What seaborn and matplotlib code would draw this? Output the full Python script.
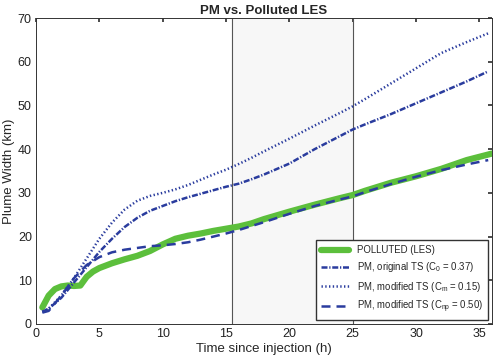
import numpy as np
import pandas as pd
import seaborn as sns
import matplotlib
matplotlib.use("Agg")
import matplotlib.pyplot as plt

# dati
t_les = [0.5, 1, 1.5, 2, 2.5, 3, 3.5, 4, 4.5, 5, 6, 7, 8, 9, 10, 11, 12, 13, 14, 15,
         16, 17, 18, 20, 22, 24, 25, 26, 28, 30, 32, 34, 36]
w_les = [3.8, 6.5, 8.0, 8.6, 8.8, 8.7, 8.8, 10.8, 12.0, 12.8, 13.9, 14.8, 15.6, 16.7,
         18.2, 19.5, 20.2, 20.7, 21.3, 21.8, 22.3, 23.0, 24.0, 25.7, 27.3, 28.8, 29.5,
         30.5, 32.3, 33.8, 35.5, 37.5, 39.0]

t_pm = [0.5, 1, 2, 3, 4, 5, 6, 7, 8, 9, 10, 11, 12, 13, 14, 15, 16, 17, 18, 20, 22,
        24, 25, 26, 28, 30, 32, 34, 35.7]
w_orig = [2.8, 3.5, 6.0, 9.5, 13.0, 16.5, 19.5, 22.2, 24.3, 25.9, 27.0, 28.1, 29.0,
          29.8, 30.6, 31.4, 32.1, 33.1, 34.2, 36.7, 40.0, 43.0, 44.5, 45.7, 48.0, 50.5,
          53.0, 55.5, 57.8]
w_m = [2.8, 3.5, 6.5, 10.5, 15.0, 19.5, 23.2, 26.2, 28.2, 29.3, 30.0, 30.8, 31.8,
       33.0, 34.2, 35.3, 36.6, 38.0, 39.5, 42.4, 45.4, 48.3, 49.8, 51.5, 55.0, 58.5,
       62.0, 64.5, 66.5]
w_np = [2.6, 3.0, 6.5, 10.5, 13.5, 15.3, 16.4, 17.0, 17.4, 17.8, 18.0, 18.3, 18.7,
        19.3, 20.0, 20.7, 21.5, 22.4, 23.3, 25.2, 27.0, 28.5, 29.2, 30.2, 32.0, 33.7,
        35.2, 36.5, 37.5]

finestra = [15.5, 25]

sns.set_theme(style="white")
plt.rcParams["font.family"] = ["Liberation Sans", "DejaVu Sans"]
plt.rcParams["mathtext.fontset"] = "custom"
plt.rcParams["mathtext.rm"] = "Liberation Sans"

verde = "#5cbf3c"
blu = "#2a3c9e"

fig = plt.figure(figsize=(5, 3.61), dpi=100)
ax = fig.add_axes([0.072, 0.1025, 0.912, 0.8475])

ax.axvspan(finestra[0], finestra[1], color="#f7f7f7", zorder=0)
for xv in finestra:
    ax.axvline(xv, color="#555555", lw=0.8, zorder=1)

df_les = pd.DataFrame({"t": t_les, "w": w_les})
df_pm = pd.DataFrame({"t": t_pm, "orig": w_orig, "m": w_m, "np": w_np})

lab_les = "POLLUTED (LES)"
lab_orig = r"PM, original TS ($\mathrm{C_0}$ = 0.37)"
lab_m = r"PM, modified TS ($\mathrm{C_m}$ = 0.15)"
lab_np = r"PM, modified TS ($\mathrm{C_{np}}$ = 0.50)"

sns.lineplot(data=df_les, x="t", y="w", ax=ax, color=verde, lw=4.5, label=lab_les)
sns.lineplot(data=df_pm, x="t", y="orig", ax=ax, color=blu, lw=1.8, label=lab_orig)
sns.lineplot(data=df_pm, x="t", y="m", ax=ax, color=blu, lw=1.8, label=lab_m)
sns.lineplot(data=df_pm, x="t", y="np", ax=ax, color=blu, lw=1.8, label=lab_np)

# stili di linea, assegnati per etichetta (unità = spessore linea)
stili = {lab_orig: [2.4, 0.7, 0.5, 0.7], lab_m: [0.55, 0.95], lab_np: [3.6, 2.4]}
for ln in ax.get_lines():
    if ln.get_label() in stili:
        ln.set_dashes(stili[ln.get_label()])

ax.set_xlim(0, 36)
ax.set_ylim(0, 70)
ax.set_xticks(range(0, 36, 5))
ax.set_yticks(range(0, 71, 10))
ax.tick_params(direction="in", length=3, top=True, right=True, labelsize=9,
               color="#333333", labelcolor="#222222", pad=3)
for s in ax.spines.values():
    s.set_color("#333333")
    s.set_linewidth(0.7)

ax.set_xlabel("Time since injection (h)", fontsize=9.5, labelpad=2)
ax.set_ylabel("Plume Width (km)", fontsize=9.5, labelpad=2)
ax.set_title("PM vs. Polluted LES", fontsize=9.5, fontweight="bold", pad=3)

ax.legend(loc="lower right", fontsize=6.9, frameon=True, fancybox=False,
          edgecolor="#333333", framealpha=1, handlelength=3.0, borderpad=0.5,
          labelspacing=0.55, borderaxespad=0.4)

plt.savefig("out.png", dpi=100)
